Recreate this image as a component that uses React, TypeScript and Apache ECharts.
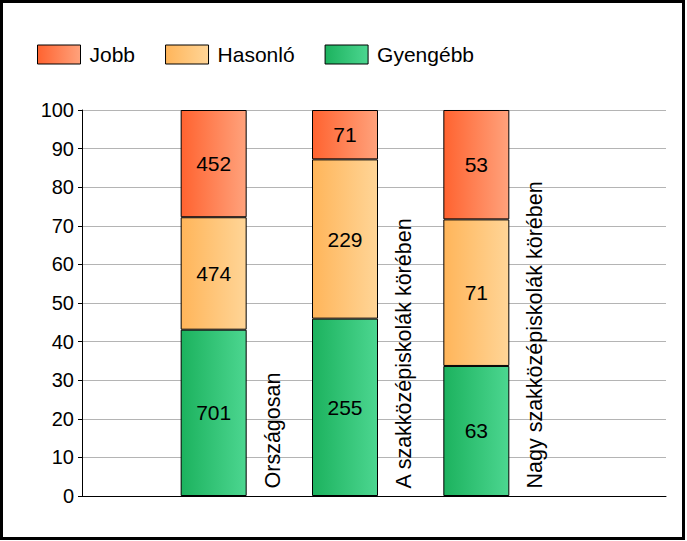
import React, { useEffect, useRef } from "react";
import * as echarts from "echarts";

const categories = ["Országosan", "A szakközépiskolák körében", "Nagy szakközépiskolák körében"];
const jobb = [452, 71, 53];
const hasonlo = [474, 229, 71];
const gyengebb = [701, 255, 63];
const yTicks = { min: 0, max: 100, interval: 10 };

const FONT = '"Liberation Sans", Arial, sans-serif';

function grad(a: string, b: string) {
  return new echarts.graphic.LinearGradient(0, 0, 1, 0, [
    { offset: 0, color: a },
    { offset: 1, color: b },
  ]);
}

export default function App() {
  const ref = useRef<HTMLDivElement>(null);
  useEffect(() => {
    if (!ref.current) return;
    const chart = echarts.init(ref.current, null, { renderer: "svg" });
    const totals = categories.map((_, i) => jobb[i] + hasonlo[i] + gyengebb[i]);
    const barSeries = (name: string, arr: number[], c1: string, c2: string) => ({
      name,
      type: "bar",
      stack: "s",
      xAxisIndex: 1,
      yAxisIndex: 1,
      barWidth: 66,
      data: arr.map((v, i) => ({ value: (v / totals[i]) * 100, count: v })),
      itemStyle: { color: grad(c1, c2), borderColor: "#000", borderWidth: 1 },
      label: {
        show: true,
        position: "inside",
        formatter: (p: any) => String(p.data.count),
        color: "#000",
        fontSize: 21,
        fontFamily: FONT,
      },
    });
    chart.setOption({
      animation: false,
      backgroundColor: "#fff",
      graphic: [
        {
          type: "rect",
          shape: { x: 1.5, y: 1.5, width: 682, height: 537 },
          style: { fill: "none", stroke: "#000", lineWidth: 3 },
          z: 100,
        },
      ],
      legend: {
        left: 37,
        top: 44,
        padding: 0,
        icon: "rect",
        itemWidth: 43,
        itemHeight: 19,
        itemGap: 30,
        data: ["Jobb", "Hasonló", "Gyengébb"],
        textStyle: { fontSize: 21, fontFamily: FONT, color: "#000", padding: [0, 0, 0, 4] },
        itemStyle: { borderColor: "#000", borderWidth: 1 },
      },
      grid: [
        { left: 82, right: 21, top: 110, bottom: 45 },
        { left: 148, right: 145, top: 110, bottom: 45 },
      ],
      xAxis: [
        {
          type: "value",
          gridIndex: 0,
          min: 0,
          max: 1,
          axisLine: { show: true, lineStyle: { color: "#000", width: 1 } },
          axisTick: { show: false },
          axisLabel: { show: false },
          splitLine: { show: false },
        },
        {
          type: "category",
          gridIndex: 1,
          data: categories,
          show: false,
        },
      ],
      yAxis: [
        {
          type: "value",
          gridIndex: 0,
          min: yTicks.min,
          max: yTicks.max,
          interval: yTicks.interval,
          axisLine: { show: true, lineStyle: { color: "#000", width: 1 } },
          axisTick: { show: true, length: 4, lineStyle: { color: "#000" } },
          axisLabel: { fontSize: 20, fontFamily: FONT, color: "#000", margin: 8 },
          splitLine: { show: true, lineStyle: { color: "#b4b4b4", width: 1 } },
        },
        {
          type: "value",
          gridIndex: 1,
          min: yTicks.min,
          max: yTicks.max,
          interval: yTicks.interval,
          show: false,
          splitLine: { show: false },
        },
      ],
      series: [
        barSeries("Gyengébb", gyengebb, "#1cb25e", "#4cd690"),
        barSeries("Hasonló", hasonlo, "#ffb55a", "#ffd597"),
        barSeries("Jobb", jobb, "#ff6330", "#ffa27c"),
        {
          name: "labels",
          type: "scatter",
          xAxisIndex: 1,
          yAxisIndex: 1,
          symbolSize: 1,
          itemStyle: { color: "rgba(0,0,0,0)", opacity: 1 },
          data: categories.map((c) => ({ value: [c, 0], name: c })),
          label: {
            show: true,
            position: [59.5, -7],
            rotate: 90,
            align: "left",
            verticalAlign: "middle",
            formatter: (p: any) => p.name,
            fontSize: 21.5,
            fontFamily: FONT,
            color: "#000",
            opacity: 1,
          },
          z: 10,
        },
      ],
    });
    return () => chart.dispose();
  }, []);
  return <div ref={ref} style={{ position: "fixed", left: 0, top: 0, width: 687, height: 541 }} />;
}
